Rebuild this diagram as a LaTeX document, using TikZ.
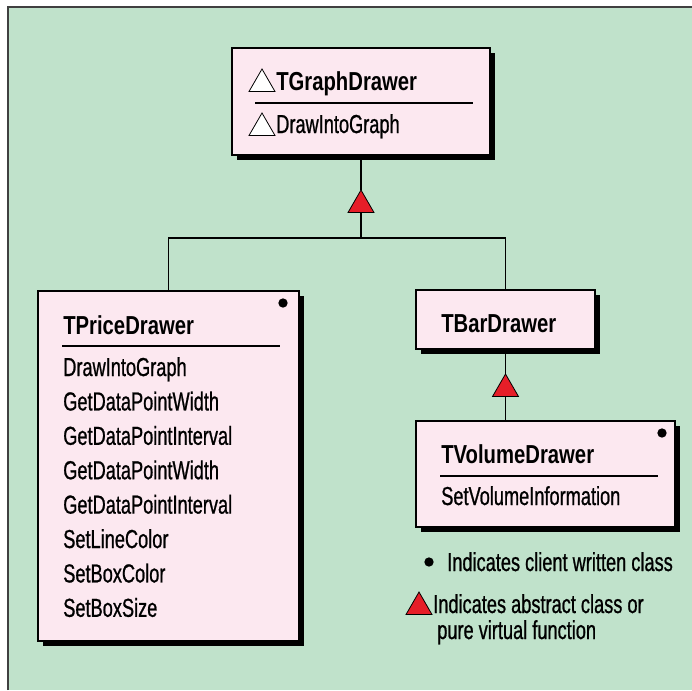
\documentclass[tikz,border=0pt]{standalone}
\usepackage{fontspec}
\setmainfont{Liberation Sans}[FakeStretch=0.70, FakeBold=0.8]
\newfontfamily\headfont{Liberation Sans}[FakeStretch=0.78]
\usetikzlibrary{shapes.geometric,shadows}
\definecolor{paneGreen}{RGB}{192,226,203}
\definecolor{boxPink}{RGB}{252,232,240}
\definecolor{markRed}{RGB}{230,30,40}
\definecolor{frameGray}{RGB}{64,64,64}

\begin{document}
\begin{tikzpicture}[x=0.75pt, y=-0.75pt,
    classbox/.style={draw=black, fill=boxPink, line width=0.8pt, inner sep=0, outer sep=0,
      drop shadow={shadow xshift=4pt, shadow yshift=-4pt, fill=black, opacity=1}},
    classname/.style={anchor=base west, inner sep=0, font=\headfont\bfseries\fontsize{19.5}{23}\selectfont},
    method/.style={anchor=base west, inner sep=0, font=\fontsize{19.5}{23}\selectfont},
    abstri/.style={regular polygon, regular polygon sides=3, minimum size=22.5pt, inner sep=0, outer sep=0,
      fill=markRed, draw=black, line width=0.6pt},
    opentri/.style={abstri, fill=white},
    owndot/.style={circle, fill=black, inner sep=0, minimum size=7pt},
    link/.style={draw=black, line width=0.8pt},
    rule/.style={draw=black, line width=0.8pt}]
    \useasboundingbox (0,0) rectangle (692,690);
    \fill[paneGreen] (8,7) rectangle (692,690);
    \draw[frameGray, line width=1.5pt] (8,690) -- (8,7) -- (692,7);

    % class boxes
    \node[classbox, minimum width=193.5pt, minimum height=80.25pt] (graph) at (361,101.5) {};
    \node[classbox, minimum width=195.75pt, minimum height=262.5pt] (price) at (168.5,466) {};
    \node[classbox, minimum width=134.25pt, minimum height=44.25pt] (bar) at (505.5,319.5) {};
    \node[classbox, minimum width=194.25pt, minimum height=79.5pt] (volume) at (545.5,474) {};

    % TGraphDrawer
    \node[opentri] (ot1) at (262,84) {};
    \node[opentri] (ot2) at (262,128) {};
    \node[classname] (graphname) at (276,90) {TGraphDrawer};
    \draw[rule] (255,103) -- (473,103);
    \node[method] (graphdraw) at (276,133) {DrawIntoGraph};

    % TPriceDrawer
    \node[owndot] (pricedot) at (283,303) {};
    \node[classname] (pricename) at (63,334) {TPriceDrawer};
    \draw[rule] (62,346) -- (280,346);
    \foreach \m [count=\i from 0] in {DrawIntoGraph, GetDataPointWidth, GetDataPointInterval,
        GetDataPointWidth, GetDataPointInterval, SetLineColor, SetBoxColor, SetBoxSize}
      \node[method] (pm\i) at (63,376+34.4*\i) {\m};

    % TBarDrawer
    \node[classname] (barname) at (441,332) {TBarDrawer};

    % TVolumeDrawer
    \node[owndot] (volumedot) at (662,433) {};
    \node[classname] (volumename) at (441,463) {TVolumeDrawer};
    \draw[rule] (440,476) -- (658,476);
    \node[method] (volumeset) at (441,505) {SetVolumeInformation};

    % inheritance
    \node[abstri] (tri1) at (361,205) {};
    \node[abstri] (tri2) at (505.5,389) {};
    \coordinate (bus) at (361,238);
    \path[link] (graph.south) edge (tri1.north);
    \draw[link] (tri1.south) -- (bus);
    \draw[link] (price.north) |- (bus) -| (bar.north);
    \path[link] (bar.south) edge (tri2.north);
    \draw[link] (tri2.south) -- (tri2.south |- volume.north);

    % legend
    \node[owndot] (keydot) at (429,562) {};
    \node[method] (keydottext) at (447,571) {Indicates client written class};
    \node[abstri] (keytri) at (419,607) {};
    \node[method] (keytritext) at (433,613) {Indicates abstract class or};
    \node[method] (keytritext2) at (437,639) {pure virtual function};
\end{tikzpicture}
\end{document}
